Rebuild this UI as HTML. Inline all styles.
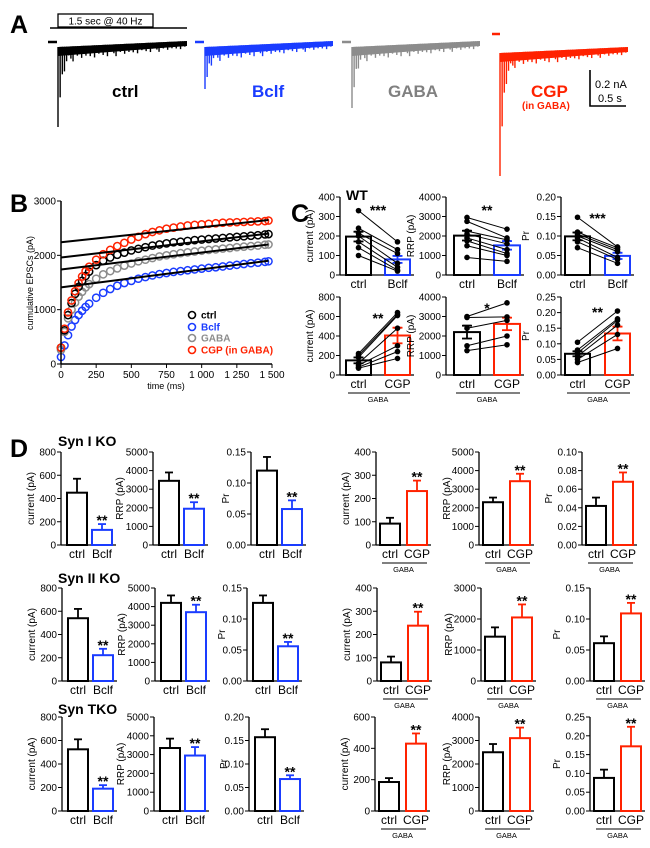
<!DOCTYPE html>
<html><head><meta charset="utf-8"><style>
body{margin:0;background:#fff}
svg{display:block;font-family:"Liberation Sans",Arial,sans-serif}
</style></head><body>
<svg id="fig" width="650" height="848" viewBox="0 0 650 848" xmlns="http://www.w3.org/2000/svg">
<text x="10" y="33" font-size="25" font-weight="bold">A</text>
<text x="10" y="212" font-size="25" font-weight="bold">B</text>
<text x="291" y="222" font-size="25" font-weight="bold">C</text>
<text x="10" y="457" font-size="25" font-weight="bold">D</text>
<text x="346" y="200" font-size="14" font-weight="bold">WT</text>
<text x="58" y="446" font-size="14" font-weight="bold">Syn I KO</text>
<text x="58" y="583" font-size="14" font-weight="bold">Syn II KO</text>
<text x="58" y="714" font-size="14" font-weight="bold">Syn TKO</text>
<rect x="58" y="14" width="95" height="13" fill="#fff" stroke="#000" stroke-width="1.3"/>
<text x="105.5" y="24.5" font-size="10" text-anchor="middle">1.5 sec @ 40 Hz</text>
<line x1="50" y1="28" x2="187" y2="28" stroke="#000" stroke-width="1.5"/>
<g id="traces"></g>
<text x="112" y="97" font-size="17" font-weight="bold" fill="#000">ctrl</text>
<text x="252" y="97" font-size="17" font-weight="bold" fill="#1a3cff">Bclf</text>
<text x="388" y="97" font-size="17" font-weight="bold" fill="#808080">GABA</text>
<text x="531" y="97" font-size="17" font-weight="bold" fill="#ff2200">CGP</text>
<text x="522" y="109" font-size="10" font-weight="bold" fill="#ff2200">(in GABA)</text>
<polyline points="590,70 590,106 626,106" fill="none" stroke="#000" stroke-width="1.6"/>
<text x="595" y="88" font-size="11">0.2 nA</text>
<text x="598" y="102" font-size="11">0.5 s</text>
<g id="pb"></g>
<g id="bars"></g>
</svg>
<script>
const bTimes=[0,25,50,75,100,125,150,175,200,250,300,350,400,450,500,550,600,650,700,750,800,850,900,950,1000,1050,1100,1150,1200,1250,1300,1350,1400,1450,1475];
const bCtrl=[300,620,900,1120,1290,1420,1530,1620,1700,1820,1900,1960,2010,2050,2090,2120,2150,2180,2200,2220,2240,2250,2265,2280,2290,2300,2310,2320,2330,2340,2350,2360,2370,2385,2390];
const bBclf=[130,340,530,690,810,900,980,1050,1110,1220,1310,1380,1440,1490,1530,1570,1600,1630,1655,1675,1695,1710,1725,1740,1755,1770,1780,1795,1810,1825,1840,1855,1865,1880,1890];
const bGaba=[260,590,840,1000,1130,1240,1330,1410,1470,1570,1650,1710,1760,1810,1850,1890,1920,1950,1980,2000,2020,2040,2055,2070,2085,2100,2110,2125,2135,2150,2160,2170,2180,2195,2200];
const bCgp=[300,650,950,1170,1340,1490,1610,1710,1790,1920,2020,2100,2170,2230,2290,2340,2390,2430,2460,2490,2510,2530,2550,2560,2570,2580,2590,2600,2605,2610,2615,2620,2625,2630,2640];
const bFitStart=[1960,1410,1740,2240];
const bFitEnd=[2400,1900,2200,2650];
const bSeriesNames=["ctrl","Bclf","GABA","CGP (in GABA)"];
const bYTicks=[0,1000,2000,3000];
const bXTicks=[0,250,500,750,1000,1250,1500];
const bXTickLabels=["0","250","500","750","1 000","1 250","1 500"];

const cCurMean=[197,80], cCurErr=[25,18];
const cCurPairs=[[330,170],[240,130],[215,110],[200,60],[170,40],[140,25],[100,20]];
const cRrpMean=[2020,1520], cRrpErr=[250,220];
const cRrpPairs=[[2950,2350],[2750,1900],[2250,1800],[2100,1600],[1900,1300],[1750,1100],[1500,1000],[900,700]];
const cPrMean=[0.099,0.049], cPrErr=[0.01,0.008];
const cPrPairs=[[0.148,0.072],[0.11,0.07],[0.105,0.065],[0.10,0.06],[0.095,0.045],[0.085,0.04],[0.07,0.03]];
const cgCurMean=[150,405], cgCurErr=[30,80];
const cgCurPairs=[[220,640],[200,620],[180,610],[120,480],[100,300],[80,240],[70,170]];
const cgRrpMean=[2200,2620], cgRrpErr=[330,320];
const cgRrpPairs=[[3000,3700],[2950,2980],[2400,2800],[1500,2000],[1250,1550]];
const cgPrMean=[0.068,0.133], cgPrErr=[0.008,0.022];
const cgPrPairs=[[0.105,0.205],[0.08,0.18],[0.07,0.175],[0.06,0.16],[0.05,0.13],[0.04,0.085]];

const d1CurMean=[450,130], d1CurErr=[120,50];
const d1RrpMean=[3450,1950], d1RrpErr=[450,350];
const d1PrMean=[0.12,0.058], d1PrErr=[0.022,0.014];
const d1gCurMean=[92,232], d1gCurErr=[25,45];
const d1gRrpMean=[2300,3430], d1gRrpErr=[250,400];
const d1gPrMean=[0.042,0.068], d1gPrErr=[0.009,0.010];
const d2CurMean=[540,222], d2CurErr=[80,55];
const d2RrpMean=[4200,3700], d2RrpErr=[400,400];
const d2PrMean=[0.126,0.056], d2PrErr=[0.012,0.007];
const d2gCurMean=[80,238], d2gCurErr=[25,60];
const d2gRrpMean=[1430,2050], d2gRrpErr=[300,420];
const d2gPrMean=[0.061,0.109], d2gPrErr=[0.011,0.017];
const d3CurMean=[525,190], d3CurErr=[85,30];
const d3RrpMean=[3350,2950], d3RrpErr=[500,450];
const d3PrMean=[0.157,0.068], d3PrErr=[0.017,0.008];
const d3gCurMean=[185,430], d3gCurErr=[25,65];
const d3gRrpMean=[2500,3100], d3gRrpErr=[350,450];
const d3gPrMean=[0.088,0.172], d3gPrErr=[0.022,0.052];

const NS="http://www.w3.org/2000/svg";
function mk(parent,tag,attrs,txt){const e=document.createElementNS(NS,tag);for(const k in attrs)e.setAttribute(k,attrs[k]);if(txt!==undefined)e.textContent=txt;parent.appendChild(e);return e;}

(function(){
  const g=document.getElementById('traces');
  const tr=[[48,187,34,126,"#000"],[195,333,34,88,"#1a3cff"],[342,480,34,107,"#8c8c8c"],[500,628,40,175,"#ff2200"]];
  const jit=[3,7,2,9,4,1,6,10,3,5,2,8,4,6,1,7,3,9,2,5];
  tr.forEach((t,k)=>{
    const [x0,x1,base,minY,col]=t;
    const sg=mk(g,'g',{stroke:col,fill:col});
    
    
    if(k<3) mk(sg,'line',{x1:x0,y1:base+8,x2:x0+9,y2:base+8,'stroke-width':2.5});
    else mk(sg,'line',{x1:492,y1:34,x2:500,y2:34,'stroke-width':2.5});
    const s=x0+(k<3?10:0), w=x1-s, n=60;
    const pts=[];
    for(let i=0;i<=n;i++){const x=s+w*i/n;pts.push(x+','+(base+13-6*i/n));}
    for(let i=n;i>=0;i--){const x=s+w*i/n;pts.push(x+','+(base+22-10*i/n));}
    mk(sg,'polygon',{points:pts.join(' '),stroke:'none'});
    for(let i=0;i<n;i++){
      const x=s+w*i/n;
      const d=(minY-base-20)*Math.exp(-i/1.6)+jit[i%20]*(1-0.5*i/n);
      mk(sg,'line',{x1:x,y1:base+13-6*i/n,x2:x,y2:base+18-8*i/n+d,'stroke-width':1.4});
    }
  });
})();

(function(){
  const g=document.getElementById('pb');
  const L=61,R=272,T=201,B=364;
  const xs=v=>L+v/1500*(R-L), ys=v=>B-v/3000*(B-T);
  const cols=["#000","#1a3cff","#8c8c8c","#ff2200"];
  const series=[bCtrl,bBclf,bGaba,bCgp];
  const order=[1,2,0,3];
  order.forEach(si=>{
    const sg=mk(g,'g',{fill:'none',stroke:cols[si],'stroke-width':1.5});
    
    
    series[si].forEach((v,i)=>{
      const c=mk(sg,'circle',{cx:xs(bTimes[i]),cy:ys(v),r:3.6});
      
      
    });
  });
  bFitStart.forEach((v,i)=>{
    const l=mk(g,'line',{x1:xs(0),y1:ys(v),x2:xs(1475),y2:ys(bFitEnd[i]),stroke:'#000','stroke-width':2});
    
    
  });
  mk(g,'line',{x1:L,y1:T,x2:L,y2:B,stroke:'#000','stroke-width':1.5});
  mk(g,'line',{x1:L,y1:B,x2:R,y2:B,stroke:'#000','stroke-width':1.5});
  bYTicks.forEach(v=>{mk(g,'line',{x1:L-4,y1:ys(v),x2:L,y2:ys(v),stroke:'#000'});
    const t=mk(g,'text',{x:L-5,y:ys(v)+3.5,'font-size':10,'text-anchor':'end'},String(v));
    
    });
  bXTicks.forEach((v,i)=>{mk(g,'line',{x1:xs(v),y1:B,x2:xs(v),y2:B+4,stroke:'#000'});
    const t=mk(g,'text',{x:xs(v),y:B+14,'font-size':10,'text-anchor':'middle'},bXTickLabels[i]);
    
    });
  const xt=mk(g,'text',{x:166,y:389,'font-size':9,'text-anchor':'middle'},'time (ms)');
  
  
  const yt=mk(g,'text',{x:0,y:0,'font-size':9,'text-anchor':'middle',transform:'translate(33,283) rotate(-90)'},'cumulative EPSCs (pA)');
  
  
  const ly=[315,327,338,350];
  bSeriesNames.forEach((n,i)=>{
    const lg=mk(g,'g',{});
    
    
    mk(lg,'circle',{cx:192,cy:ly[i],r:3.5,fill:'none',stroke:cols[i],'stroke-width':1.6});
    mk(lg,'text',{x:201,y:ly[i]+3.5,'font-size':10,'font-weight':'bold',fill:cols[i]},n);
  });
})();

const BL="#1a3cff", RD="#ff2200";
function fmt(v,dec){return dec?v.toFixed(dec):String(v);}
function barPanel(o){
  const root=document.getElementById('bars');
  const g=mk(root,'g',{});
  
  
  const y=v=>o.bot-v/o.max*(o.bot-o.top);
  const b1x=o.ax+o.o1, b2x=o.ax+o.o2;
  const xs=[b1x,b2x], cols=['#000',o.col];
  mk(g,'line',{x1:o.ax,y1:o.top,x2:o.ax,y2:o.bot,stroke:'#000','stroke-width':1.3});
  mk(g,'line',{x1:o.ax,y1:o.bot,x2:b2x+o.w+4,y2:o.bot,stroke:'#000','stroke-width':1.3});
  const n=Math.round(o.max/o.step);
  for(let i=0;i<=n;i++){const v=o.step*i;
    mk(g,'line',{x1:o.ax-4,y1:y(v),x2:o.ax,y2:y(v),stroke:'#000'});
    const t=mk(g,'text',{x:o.ax-5,y:y(v)+3.5,'font-size':10,'text-anchor':'end'},fmt(v,o.dec));
    
    
  }
  const yl=mk(g,'text',{x:0,y:0,'font-size':10,'text-anchor':'middle',transform:`translate(${o.ax-o.ylo},${(o.top+o.bot)/2}) rotate(-90)`},o.ylab);
  
  
  o.mean.forEach((m,i)=>{
    const cx=xs[i]+o.w/2;
    const e=o.err[i];
    const el=mk(g,'line',{x1:cx,y1:y(m),x2:cx,y2:y(m+e),stroke:cols[i],'stroke-width':1.8});
    
    
    mk(g,'line',{x1:cx-4,y1:y(m+e),x2:cx+4,y2:y(m+e),stroke:cols[i],'stroke-width':1.8});
    const r=mk(g,'rect',{x:xs[i],y:y(m),width:o.w,height:o.bot-y(m),fill:'#fff','fill-opacity':o.pairs?0:1,stroke:cols[i],'stroke-width':2});
    
    
    if(o.pairs){mk(g,'line',{x1:cx,y1:y(m),x2:cx,y2:y(m-e),stroke:cols[i],'stroke-width':1.8});
      mk(g,'line',{x1:cx-5,y1:y(m-e),x2:cx+5,y2:y(m-e),stroke:cols[i],'stroke-width':1.8});
      mk(g,'line',{x1:cx-5,y1:y(m+e),x2:cx+5,y2:y(m+e),stroke:cols[i],'stroke-width':1.8});}
    const t=mk(g,'text',{x:cx,y:o.bot+13,'font-size':12,'text-anchor':'middle'},o.cats[i]);
    
    
  });
  if(o.pairs){
    const c1=b1x+o.w/2, c2=b2x+o.w/2;
    o.pairs.forEach(p=>{
      const pl=mk(g,'line',{x1:c1,y1:y(p[0]),x2:c2,y2:y(p[1]),stroke:'#000','stroke-width':1});
      
      
      mk(g,'circle',{cx:c1,cy:y(p[0]),r:2.8,fill:'#000'});
      mk(g,'circle',{cx:c2,cy:y(p[1]),r:2.8,fill:'#000'});
    });
  }
  if(o.gaba){
    mk(g,'line',{x1:b1x+2,y1:o.bot+18,x2:b2x+o.w,y2:o.bot+18,stroke:'#000','stroke-width':1});
    const t=mk(g,'text',{x:(b1x+b2x+o.w)/2,y:o.bot+27,'font-size':7.5,'text-anchor':'middle'},'GABA');
    
    
  }
  const sx=o.pairs?(b1x+b2x+o.w)/2:b2x+o.w/2;
  const sy=o.pairs?o.top+o.starDy:y(o.mean[1]+o.err[1])-7;
  const st=mk(g,'text',{x:sx,y:sy+8,'font-size':14,'font-weight':'bold','text-anchor':'middle'},o.stars);
  
  
}
const cT1=197,cB1=275,cT2=297,cB2=375;
const cAx=[340,446,561];
barPanel({name:'c-wt-current',ax:cAx[0],top:cT1,bot:cB1,max:400,step:100,dec:0,mean:cCurMean,err:cCurErr,pairs:cCurPairs,col:BL,cats:['ctrl','Bclf'],ylab:'current (pA)',ylo:27,o1:6,o2:45,w:25,stars:'***',starDy:10});
barPanel({name:'c-wt-rrp',ax:cAx[1],top:cT1,bot:cB1,max:4000,step:1000,dec:0,mean:cRrpMean,err:cRrpErr,pairs:cRrpPairs,col:BL,cats:['ctrl','Bclf'],ylab:'RRP (pA)',ylo:32,o1:8,o2:48,w:26,stars:'**',starDy:10});
barPanel({name:'c-wt-pr',ax:cAx[2],top:cT1,bot:cB1,max:0.2,step:0.05,dec:2,mean:cPrMean,err:cPrErr,pairs:cPrPairs,col:BL,cats:['ctrl','Bclf'],ylab:'Pr',ylo:32,o1:4,o2:44,w:25,stars:'***',starDy:18});
barPanel({name:'c-gaba-current',ax:cAx[0],top:cT2,bot:cB2,max:800,step:200,dec:0,mean:cgCurMean,err:cgCurErr,pairs:cgCurPairs,col:RD,cats:['ctrl','CGP'],ylab:'current (pA)',ylo:27,o1:6,o2:45,w:25,stars:'**',starDy:18,gaba:true});
barPanel({name:'c-gaba-rrp',ax:cAx[1],top:cT2,bot:cB2,max:4000,step:1000,dec:0,mean:cgRrpMean,err:cgRrpErr,pairs:cgRrpPairs,col:RD,cats:['ctrl','CGP'],ylab:'RRP (pA)',ylo:32,o1:8,o2:48,w:26,stars:'*',starDy:8,gaba:true});
barPanel({name:'c-gaba-pr',ax:cAx[2],top:cT2,bot:cB2,max:0.25,step:0.05,dec:2,mean:cgPrMean,err:cgPrErr,pairs:cgPrPairs,col:RD,cats:['ctrl','CGP'],ylab:'Pr',ylo:32,o1:4,o2:44,w:25,stars:'**',starDy:12,gaba:true});
const dRows=[{top:452,bot:545,ax:[61,153,251,376,479,582]},{top:588,bot:681,ax:[62,155,247,377,481,590]},{top:717,bot:811,ax:[62,154,249,375,479,590]}];
const dData=[
 [[d1CurMean,d1CurErr,800,200,0],[d1RrpMean,d1RrpErr,5000,1000,0],[d1PrMean,d1PrErr,0.15,0.05,2],[d1gCurMean,d1gCurErr,400,100,0],[d1gRrpMean,d1gRrpErr,5000,1000,0],[d1gPrMean,d1gPrErr,0.10,0.02,2]],
 [[d2CurMean,d2CurErr,800,200,0],[d2RrpMean,d2RrpErr,5000,1000,0],[d2PrMean,d2PrErr,0.15,0.05,2],[d2gCurMean,d2gCurErr,400,100,0],[d2gRrpMean,d2gRrpErr,3000,1000,0],[d2gPrMean,d2gPrErr,0.15,0.05,2]],
 [[d3CurMean,d3CurErr,800,200,0],[d3RrpMean,d3RrpErr,5000,1000,0],[d3PrMean,d3PrErr,0.20,0.05,2],[d3gCurMean,d3gCurErr,600,200,0],[d3gRrpMean,d3gRrpErr,4000,1000,0],[d3gPrMean,d3gPrErr,0.25,0.05,2]]];
const dYlabs=['current (pA)','RRP (pA)','Pr','current (pA)','RRP (pA)','Pr'];
const dYlo=[27,30,22,27,29,30];
dRows.forEach((row,ri)=>{
  dData[ri].forEach((d,pi)=>{
    const right=pi>=3;
    barPanel({name:'d-row'+(ri+1)+'-panel'+(pi+1),ax:row.ax[pi],top:row.top,bot:row.bot,max:d[2],step:d[3],dec:d[4],mean:d[0],err:d[1],
      col:right?RD:BL,cats:right?['ctrl','CGP']:['ctrl','Bclf'],ylab:dYlabs[pi],ylo:dYlo[pi],o1:right?4:6,o2:31,w:20,stars:'**',gaba:right});
  });
});
</script>
</body></html>
